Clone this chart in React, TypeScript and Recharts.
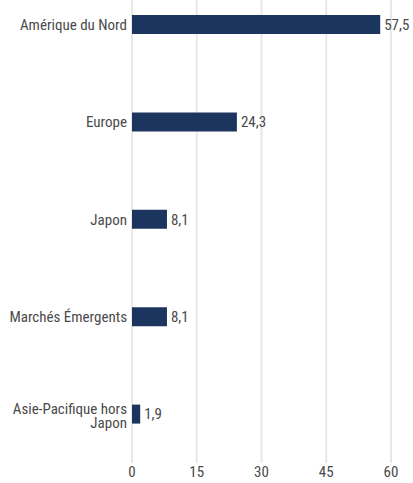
import React from 'react';
import { BarChart, Bar, XAxis, YAxis, CartesianGrid, LabelList } from 'recharts';

const regions = ['Amérique du Nord', 'Europe', 'Japon', 'Marchés Émergents', 'Asie-Pacifique hors Japon'];
const weights = [57.5, 24.3, 8.1, 8.1, 1.9];
const xTicks = [0, 15, 30, 45, 60];

const data = regions.map((name, i) => ({ name, value: weights[i] }));

const FONT = '"Liberation Sans Narrow", "Roboto Condensed", "DejaVu Sans Condensed", sans-serif';

// split long labels onto two lines, last word below
function RegionTick(props: any) {
  const { x, y, payload } = props;
  const text: string = payload.value;
  const lines = text.length > 20
    ? [text.slice(0, text.lastIndexOf(' ')), text.slice(text.lastIndexOf(' ') + 1)]
    : [text];
  return (
    <text x={x} y={y} textAnchor="end" fill="#4a4a4a" fontSize={15} fontFamily={FONT}>
      {lines.map((l, i) => (
        <tspan key={i} x={x} dy={i === 0 ? (lines.length > 1 ? 0 : 5) : 14}>{l}</tspan>
      ))}
    </text>
  );
}

export default function App() {
  return (
    <div style={{ position: 'absolute', left: 0, top: 0, width: 413, height: 483, overflow: 'hidden' }}>
      <div style={{ position: 'relative', top: -32 }}>
        <BarChart
          width={413}
          height={530}
          data={data}
          layout="vertical"
          margin={{ top: 8, right: 22, bottom: 5, left: 0 }}
        >
          <CartesianGrid horizontal={false} stroke="#e8e8e8" strokeWidth={2} />
          <XAxis
            type="number"
            domain={[0, 60]}
            ticks={xTicks}
            axisLine={false}
            tickLine={false}
            tickSize={0}
            tickMargin={3}
            height={30}
            tick={{ fill: '#4a4a4a', fontSize: 15, fontFamily: FONT }}
          />
          <YAxis
            type="category"
            dataKey="name"
            width={132}
            axisLine={false}
            tickLine={false}
            tickMargin={0}
            tickSize={5}
            tick={<RegionTick />}
          />
          <Bar dataKey="value" fill="#1c355e" barSize={19} isAnimationActive={false}>
            <LabelList
              dataKey="value"
              position="right"
              offset={4}
              fill="#4a4a4a"
              fontSize={15}
              fontFamily={FONT}
              formatter={(v: any) => String(v).replace('.', ',')}
            />
          </Bar>
        </BarChart>
      </div>
    </div>
  );
}
